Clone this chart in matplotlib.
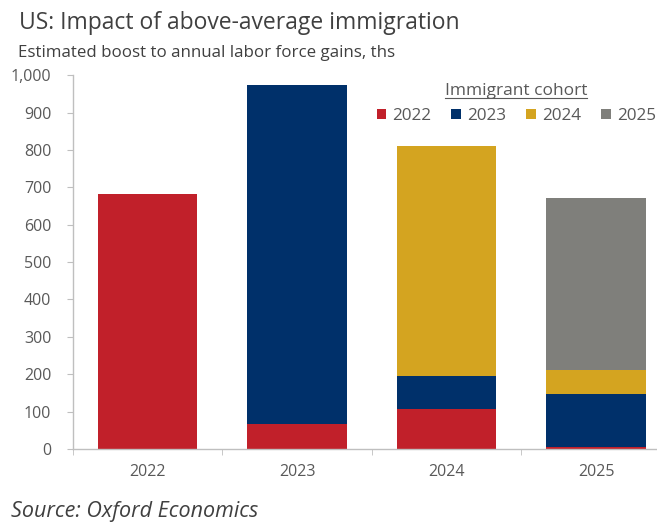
import matplotlib.pyplot as plt
import numpy as np
from matplotlib.patches import Patch
from matplotlib.lines import Line2D

plt.rcParams['font.family'] = ['Open Sans', 'DejaVu Sans']

years = ['2022', '2023', '2024', '2025']
cohorts = ['2022', '2023', '2024', '2025']
# stacked contributions by immigrant cohort, ths
cohort_2022 = [683, 68, 108, 5]
cohort_2023 = [0, 907, 88, 143]
cohort_2024 = [0, 0, 614, 62]
cohort_2025 = [0, 0, 0, 462]
series = [cohort_2022, cohort_2023, cohort_2024, cohort_2025]
colors = ['#c1202a', '#00306a', '#d4a420', '#7f7f7b']

grey = '#595959'
axis_col = '#bfbfbf'

fig = plt.figure(figsize=(6.57, 5.22), dpi=100)
# the category band for 2025 runs past the right edge in the original
ax = fig.add_axes([0.111, 0.140, 0.910, 0.716])

x = np.arange(len(years))
bottom = np.zeros(len(years))
for vals, c in zip(series, colors):
    ax.bar(x, vals, width=0.665, bottom=bottom, color=c, zorder=2)
    bottom += np.array(vals)

ax.set_xlim(-0.5, 3.5)
ax.set_ylim(0, 1000)
ax.set_yticks(range(0, 1001, 100))
ax.set_yticklabels([f'{v:,}' for v in range(0, 1001, 100)])
ax.set_xticks(x)
ax.set_xticklabels(years)
ax.set_xticks(np.arange(-0.5, 4, 1), minor=True)
ax.tick_params(axis='x', which='major', length=0, pad=11, labelsize=11.5, labelcolor=grey)
ax.tick_params(axis='x', which='minor', length=4.5, color=axis_col, direction='out')
ax.tick_params(axis='y', length=4.5, color=axis_col, pad=11, labelsize=11.5, labelcolor=grey)

for s in ['top', 'right']:
    ax.spines[s].set_visible(False)
for s in ['left', 'bottom']:
    ax.spines[s].set_color(axis_col)
    ax.spines[s].set_linewidth(1)

fig.text(0.029, 0.955, 'US: Impact of above-average immigration', fontsize=16.5, color='#404040', va='center')
fig.text(0.028, 0.898, 'Estimated boost to annual labor force gains, ths', fontsize=12.2, color='#404040', va='center')
fig.text(0.017, 0.020, 'Source: Oxford Economics', fontsize=15.5, color='#404040', style='italic', va='center')

handles = [Patch(facecolor=c, label=l) for c, l in zip(colors, cohorts)]
leg = ax.legend(handles=handles, ncol=4, loc='upper right', bbox_to_anchor=(0.995, 1.01),
                frameon=False, fontsize=12.3, handlelength=0.55, handleheight=0.55,
                handletextpad=0.35, columnspacing=1.2, labelcolor=grey,
                title='Immigrant cohort', title_fontsize=12.5, borderpad=0.2)
leg.get_title().set_color(grey)

# underline the legend title
fig.canvas.draw()
bb = leg.get_title().get_window_extent().transformed(fig.transFigure.inverted())
fig.add_artist(Line2D([bb.x0, bb.x1], [bb.y0 + 0.002, bb.y0 + 0.002], color=grey, lw=0.8,
                      transform=fig.transFigure))

fig.savefig('out.png', dpi=100)
